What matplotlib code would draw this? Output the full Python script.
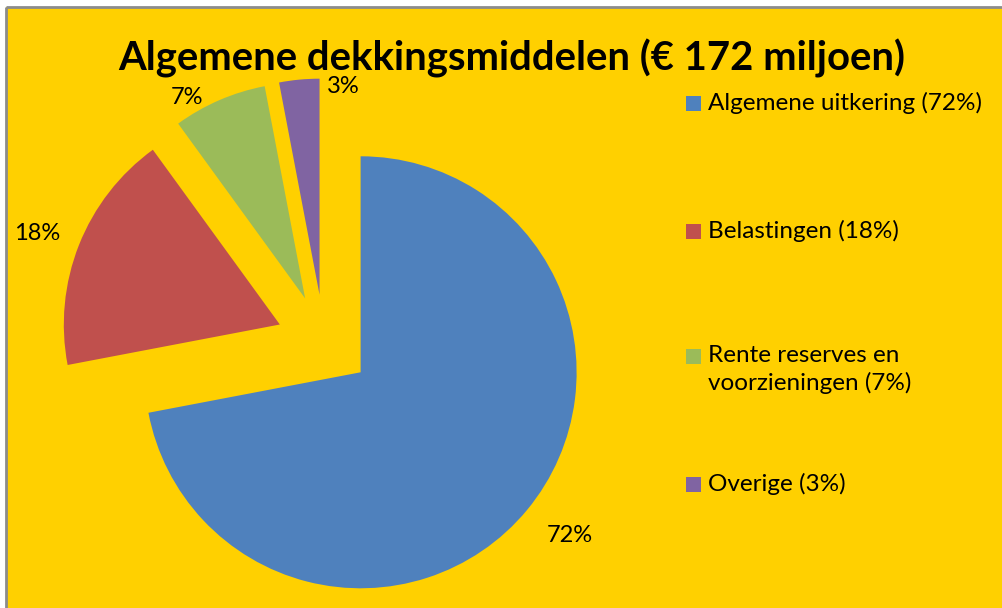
import matplotlib
matplotlib.use("Agg")
import matplotlib.pyplot as plt
import numpy as np
from matplotlib.lines import Line2D
from matplotlib.patches import Rectangle

plt.rcParams["font.family"] = ["Lato", "DejaVu Sans"]

# data
categories = ["Algemene uitkering", "Belastingen", "Rente reserves en\nvoorzieningen", "Overige"]
shares = [72, 18, 7, 3]
pct_labels = ["72%", "18%", "7%", "3%"]
colors = ["#4F81BD", "#C0504D", "#9BBB59", "#8064A2"]
title = "Algemene dekkingsmiddelen (€ 172 miljoen)"

W, H = 1003, 608
BG = "#FFD000"
R = 216  # pie radius in pixels


def px(x, y):
    """pixel (from top-left) -> figure fraction"""
    return x / W, 1 - y / H


fig = plt.figure(figsize=(W / 100, H / 100), dpi=100)
fig.patch.set_facecolor(BG)

# white margin + grey border on the top and left of the chart area
fig.add_artist(Rectangle((0, 0), 6 / W, 1, transform=fig.transFigure,
                         facecolor="white", edgecolor="none", zorder=-5))
fig.add_artist(Rectangle((0, 1 - 6.5 / H), 1, 6.5 / H, transform=fig.transFigure,
                         facecolor="white", edgecolor="none", zorder=-5))
border = dict(color="#8C8C8C", linewidth=2, transform=fig.transFigure, zorder=-4,
              solid_capstyle="butt")
fig.add_artist(Line2D([6 / W, 6 / W], [0, 1 - 6.5 / H], **border))
fig.add_artist(Line2D([6 / W, 1], [1 - 6.5 / H, 1 - 6.5 / H], **border))

ax = fig.add_axes([0, 0, 1, 1], zorder=2)
ax.set_facecolor("none")

wedges, _ = ax.pie(
    shares,
    colors=colors,
    startangle=90,
    counterclock=False,
    explode=[0.22 * R] * len(shares),
    center=(324, H - 342),
    radius=R,
    frame=True,
    wedgeprops=dict(linewidth=0),
)
ax.set_xlim(0, W)
ax.set_ylim(0, H)
ax.set_aspect("equal")
ax.axis("off")

# data labels around the slices (Excel best-fit style)
label_dist = [1.23, 1.2, 1.08, 0.97]
label_shift = [1.7, 1.0, 7.0, -12.0]
for w, txt, d, s in zip(wedges, pct_labels, label_dist, label_shift):
    ang = np.deg2rad((w.theta1 + w.theta2) / 2 + s)
    cx, cy = w.center
    ax.text(cx + w.r * d * np.cos(ang), cy + w.r * d * np.sin(ang), txt,
            ha="center", va="center", fontsize=17, color="black")

fig.text(*px(512, 70), title, ha="center", va="baseline",
         fontsize=28.8, fontweight="bold", color="black")

# legend
leg_y = [103, 231, 356, 484]
for lab, pct, col, y in zip(categories, shares, colors, leg_y):
    fig.add_artist(Rectangle(px(686, y + 8), 15 / W, 15 / H, transform=fig.transFigure,
                             facecolor=col, edgecolor="none", zorder=3))
    fig.text(*px(708, y - 11), f"{lab} ({pct}%)", ha="left", va="top",
             fontsize=17.5, color="black", linespacing=1.3)

fig.savefig("out.png", dpi=100, facecolor=fig.get_facecolor())
